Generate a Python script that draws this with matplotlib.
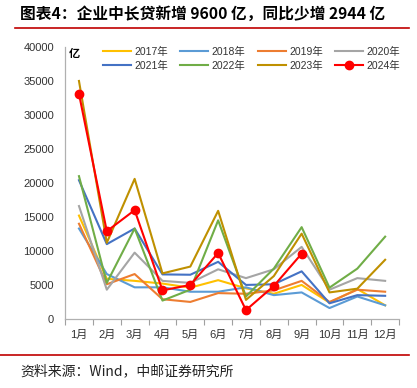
import numpy as np
import matplotlib.pyplot as plt
from matplotlib.lines import Line2D

plt.rcParams['font.family'] = ['Liberation Sans', 'Noto Sans CJK SC', 'DejaVu Sans']

months = ['1月', '2月', '3月', '4月', '5月', '6月', '7月', '8月', '9月', '10月', '11月', '12月']

y2017 = [15200, 5900, 5600, 5200, 4600, 5700, 4500, 3700, 5000, 2400, 4400, 2000]
y2018 = [13300, 6600, 4650, 4650, 4000, 4000, 4650, 3500, 3900, 1600, 3300, 2000]
y2019 = [14000, 5100, 6600, 2900, 2500, 3800, 3700, 4200, 5600, 2500, 4300, 4000]
y2020 = [16600, 4300, 9750, 5600, 5300, 7300, 6000, 7300, 10600, 4300, 6000, 5600]
y2021 = [20400, 11000, 13300, 6550, 6500, 8400, 5000, 5100, 7000, 2300, 3500, 3400]
y2022 = [21000, 5300, 13300, 2700, 4300, 14500, 3300, 7400, 13500, 4600, 7400, 12100]
y2023 = [35000, 11200, 20600, 6700, 7700, 15900, 2800, 6300, 12544, 3900, 4450, 8700]
y2024 = [33100, 12900, 16000, 4200, 5000, 9700, 1300, 4850, 9600]

series = [
    ('2017年', y2017, '#FFC000'),
    ('2018年', y2018, '#5B9BD5'),
    ('2019年', y2019, '#ED7D31'),
    ('2020年', y2020, '#A5A5A5'),
    ('2021年', y2021, '#4472C4'),
    ('2022年', y2022, '#70AD47'),
    ('2023年', y2023, '#BF9000'),
]

fig = plt.figure(figsize=(4.17, 3.88), dpi=100)
ax = fig.add_axes([0.156, 0.178, 0.801, 0.701])

x = np.arange(len(months))
handles = []
for name, vals, col in series:
    h, = ax.plot(x, vals, color=col, lw=1.5, label=name)
    handles.append(h)
h, = ax.plot(x[:len(y2024)], y2024, color='#FF0000', lw=1.5, marker='o', ms=6, label='2024年')
handles.append(h)

ax.set_xlim(-0.5, 11.5)
ax.set_ylim(0, 40000)
ax.set_yticks(np.arange(0, 40001, 5000))
ax.set_xticks(x)
ax.set_xticklabels(months)
ax.set_xticks(np.arange(-0.5, 12, 1), minor=True)
ax.tick_params(axis='x', which='major', length=0, labelsize=8, pad=8, labelcolor='#333333')
ax.tick_params(axis='x', which='minor', length=4, color='#A0A0A0', width=0.8)
ax.tick_params(axis='y', length=0, labelsize=8, pad=8, labelcolor='#333333')
for s in ['top', 'right']:
    ax.spines[s].set_visible(False)
for s in ['left', 'bottom']:
    ax.spines[s].set_color('#B0B0B0')
    ax.spines[s].set_linewidth(0.9)

ax.text(0.01, 1.0, '亿', transform=ax.transAxes, fontsize=8, fontweight='bold',
        ha='left', va='top', family=['Noto Sans CJK SC'])

# legend order: row-wise, 4 columns
order = [0, 4, 1, 5, 2, 6, 3, 7]
leg = ax.legend([handles[i] for i in order], [handles[i].get_label() for i in order],
                ncol=4, loc='upper left', bbox_to_anchor=(0.085, 1.035), frameon=False,
                fontsize=7.5, handlelength=2.7, handletextpad=0.3, columnspacing=1.2,
                labelspacing=0.35, labelcolor='#333333')

fig.text(0.048, 0.965, '图表4：企业中长贷新增 9600 亿，同比少增 2944 亿', fontsize=11.3,
         fontweight='bold', ha='left', va='center', family=['Noto Sans CJK SC'])
fig.add_artist(Line2D([0.036, 0.98], [0.929, 0.929], color='#C00000', lw=1.2))
fig.add_artist(Line2D([0.0, 0.98], [0.085, 0.085], color='#C00000', lw=1.2))
fig.text(0.048, 0.042, '资料来源：Wind，中邮证券研究所', fontsize=10, ha='left', va='center',
         family=['Noto Sans CJK SC'], color='#222222')

fig.savefig('out.png', dpi=100)
